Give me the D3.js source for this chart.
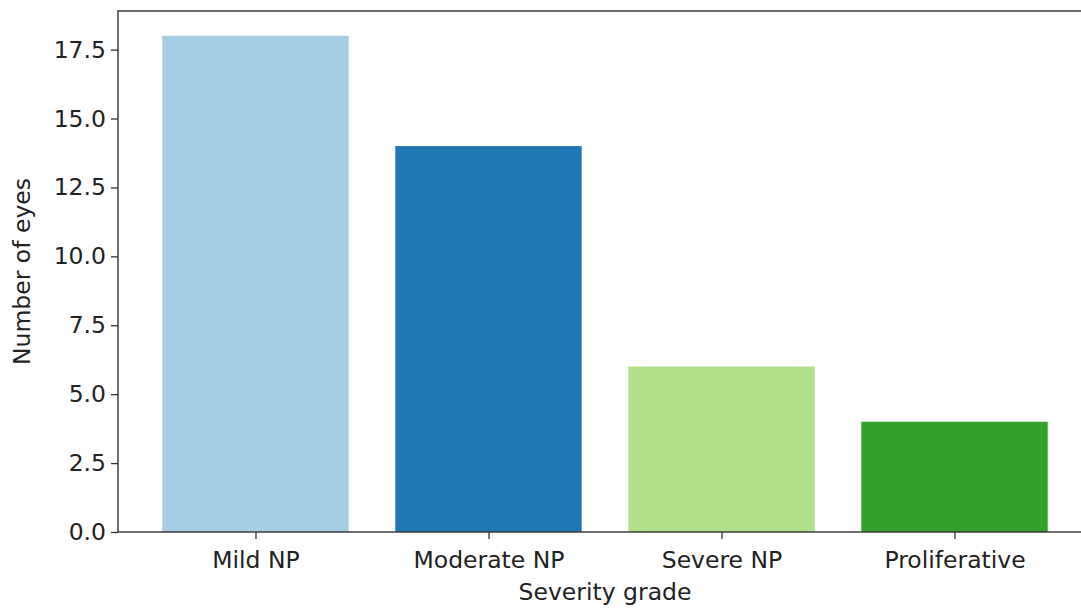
<!DOCTYPE html>
<html>
<head>
<meta charset="utf-8">
<script src="https://cdn.jsdelivr.net/npm/d3@7"></script>
<style>
  body { margin: 0; background: #fff; }
  svg text { font-family: "DejaVu Sans", sans-serif; fill: #222; }
</style>
</head>
<body>
<div id="chart"></div>
<script>
const grades = ["Mild NP", "Moderate NP", "Severe NP", "Proliferative"];
const counts = [18, 14, 6, 4];
const barColors = ["#a6cee3", "#1f78b4", "#b2df8a", "#33a02c"];
const yTicks = [0, 2.5, 5, 7.5, 10, 12.5, 15, 17.5];

const width = 1081, height = 608;
const plot = { left: 118, right: 1092, top: 11, bottom: 532 };
const fontSize = "23.5px";

const svg = d3.select("#chart").append("svg")
  .attr("width", width).attr("height", height);

// matplotlib-like x limits around categorical positions
const x = d3.scaleLinear().domain([-0.59, 3.59]).range([plot.left, plot.right]);
const y = d3.scaleLinear().domain([0, 18.9]).range([plot.bottom, plot.top]);
const barW = x(0.8) - x(0);

svg.append("g")
  .selectAll("rect")
  .data(counts)
  .join("rect")
  .attr("x", (d, i) => x(i) - barW / 2)
  .attr("y", d => y(d))
  .attr("width", barW)
  .attr("height", d => y(0) - y(d))
  .attr("fill", (d, i) => barColors[i]);

// y axis
const yAxis = svg.append("g")
  .attr("transform", `translate(${plot.left},0)`)
  .call(d3.axisLeft(y).tickValues(yTicks).tickFormat(d3.format(".1f")).tickSize(7).tickPadding(5));
yAxis.select(".domain").remove();
yAxis.selectAll("text").style("font-size", fontSize);

// x axis
const xAxis = svg.append("g")
  .attr("transform", `translate(0,${plot.bottom})`)
  .call(d3.axisBottom(x).tickValues([0, 1, 2, 3]).tickFormat(i => grades[i]).tickSize(7).tickPadding(12));
xAxis.select(".domain").remove();
xAxis.selectAll("text").style("font-size", fontSize);

svg.selectAll(".tick line").attr("stroke", "#333").attr("stroke-width", 1.3);

// spines
svg.append("rect")
  .attr("x", plot.left).attr("y", plot.top)
  .attr("width", plot.right - plot.left).attr("height", plot.bottom - plot.top)
  .attr("fill", "none").attr("stroke", "#333").attr("stroke-width", 1.4);

svg.append("text")
  .attr("x", x(1.5)).attr("y", 600)
  .attr("text-anchor", "middle")
  .style("font-size", fontSize)
  .text("Severity grade");

svg.append("text")
  .attr("transform", `translate(30,${(plot.top + plot.bottom) / 2}) rotate(-90)`)
  .attr("text-anchor", "middle")
  .style("font-size", fontSize)
  .text("Number of eyes");
</script>
</body>
</html>
